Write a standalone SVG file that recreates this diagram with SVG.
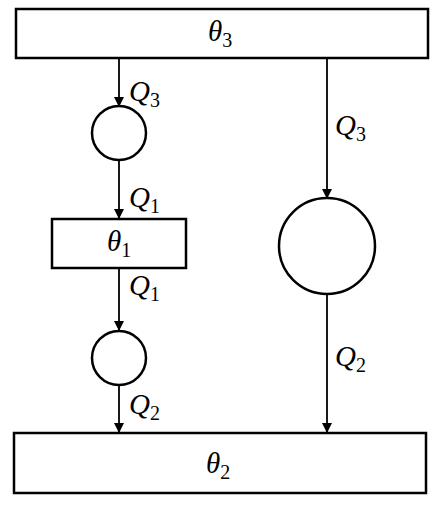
<svg xmlns="http://www.w3.org/2000/svg" width="440" height="516" viewBox="0 0 440 516">
<style>
.box{fill:#fff;stroke:#000;stroke-width:2.5}
.c{fill:#fff;stroke:#000;stroke-width:2.5}
.ln{stroke:#000;stroke-width:1.8;fill:none}
.t{font-family:"Liberation Serif",serif;font-style:italic;font-size:29px;fill:#000}
.s{font-style:normal;font-size:20px}
</style>
<defs>
<marker id="ah" viewBox="0 0 10 16" refX="10" refY="8" markerWidth="14" markerHeight="16" markerUnits="userSpaceOnUse" orient="auto">
<path d="M0,3 L10,8 L0,13 Z" fill="#000"/>
</marker>
</defs>
<g id="connectors">
<line class="ln" x1="119" y1="58" x2="119" y2="107" marker-end="url(#ah)"/>
<line class="ln" x1="119" y1="160" x2="119" y2="219" marker-end="url(#ah)"/>
<line class="ln" x1="119" y1="268" x2="119" y2="331" marker-end="url(#ah)"/>
<line class="ln" x1="119" y1="385" x2="119" y2="433" marker-end="url(#ah)"/>
<line class="ln" x1="327" y1="58" x2="327" y2="199" marker-end="url(#ah)"/>
<line class="ln" x1="327" y1="294" x2="327" y2="433" marker-end="url(#ah)"/>
<text class="t" x="129" y="101">Q<tspan class="s" dy="6">3</tspan></text>
<text class="t" x="335" y="135">Q<tspan class="s" dy="6">3</tspan></text>
<text class="t" x="129" y="207">Q<tspan class="s" dy="6">1</tspan></text>
<text class="t" x="129" y="295">Q<tspan class="s" dy="6">1</tspan></text>
<text class="t" x="129" y="414">Q<tspan class="s" dy="6">2</tspan></text>
<text class="t" x="335" y="366">Q<tspan class="s" dy="6">2</tspan></text>
</g>
<g id="theta3">
<rect class="box" x="16" y="9" width="412" height="49"/>
<text class="t" x="208" y="41">θ<tspan class="s" dy="6">3</tspan></text>
</g>
<g id="circle1"><circle class="c" cx="119" cy="133" r="27"/></g>
<g id="theta1">
<rect class="box" x="52" y="219" width="134" height="49"/>
<text class="t" x="107" y="251">θ<tspan class="s" dy="6">1</tspan></text>
</g>
<g id="circle2"><circle class="c" cx="119" cy="358" r="27"/></g>
<g id="circle3"><circle class="c" cx="327" cy="246" r="48"/></g>
<g id="theta2">
<rect class="box" x="14" y="433" width="412" height="60"/>
<text class="t" x="206" y="473">θ<tspan class="s" dy="6">2</tspan></text>
</g>
</svg>
